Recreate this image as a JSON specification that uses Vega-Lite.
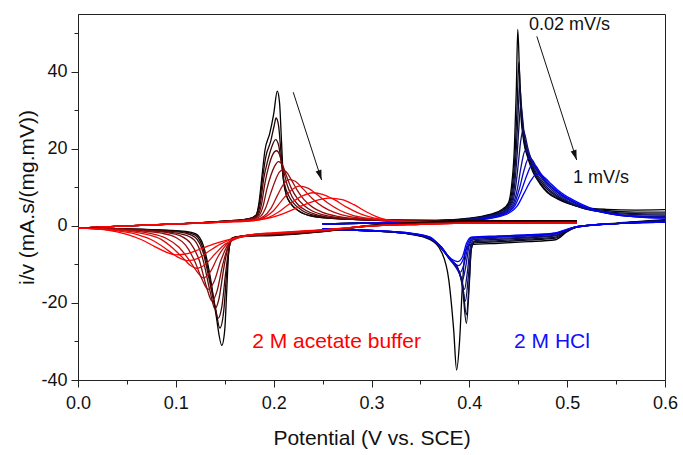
{
"$schema":"https://vega.github.io/schema/vega-lite/v6.json",
"width":587,"height":366,
"autosize":{"type":"none"},
"padding":{"left":78,"top":14,"right":18,"bottom":75},
"background":"white",
"config":{"font":"Liberation Sans","view":{"stroke":"#222222","strokeWidth":1}},
"datasets":{
"cv":[
{"c":"A0","b":"u","x":0,"y":-0.6},{"c":"A0","b":"u","x":0.05,"y":0},{"c":"A0","b":"u","x":0.1,"y":0.5},{"c":"A0","b":"u","x":0.15,"y":1.2},{"c":"A0","b":"u","x":0.175,"y":1.9},{"c":"A0","b":"u","x":0.182,"y":2.8},{"c":"A0","b":"u","x":0.185,"y":6},{"c":"A0","b":"u","x":0.1885,"y":14},{"c":"A0","b":"u","x":0.191,"y":19.5},{"c":"A0","b":"u","x":0.196,"y":24},{"c":"A0","b":"u","x":0.2,"y":29},{"c":"A0","b":"u","x":0.2037,"y":35},{"c":"A0","b":"u","x":0.206,"y":32},{"c":"A0","b":"u","x":0.208,"y":22},{"c":"A0","b":"u","x":0.21,"y":12},{"c":"A0","b":"u","x":0.213,"y":8},{"c":"A0","b":"u","x":0.217,"y":5.9},{"c":"A0","b":"u","x":0.225,"y":4},{"c":"A0","b":"u","x":0.24,"y":2.5},{"c":"A0","b":"u","x":0.27,"y":1.8},{"c":"A0","b":"u","x":0.3,"y":1.6},{"c":"A0","b":"u","x":0.4,"y":1.4},{"c":"A0","b":"u","x":0.51,"y":1.3},
{"c":"A1","b":"u","x":0,"y":-0.6},{"c":"A1","b":"u","x":0.05,"y":0},{"c":"A1","b":"u","x":0.1,"y":0.5},{"c":"A1","b":"u","x":0.15,"y":1.2},{"c":"A1","b":"u","x":0.175,"y":1.9},{"c":"A1","b":"u","x":0.182,"y":2.8},{"c":"A1","b":"u","x":0.1855,"y":6},{"c":"A1","b":"u","x":0.189,"y":13},{"c":"A1","b":"u","x":0.192,"y":18},{"c":"A1","b":"u","x":0.197,"y":22},{"c":"A1","b":"u","x":0.2005,"y":26},{"c":"A1","b":"u","x":0.2025,"y":28},{"c":"A1","b":"u","x":0.205,"y":26},{"c":"A1","b":"u","x":0.2075,"y":19},{"c":"A1","b":"u","x":0.21,"y":12},{"c":"A1","b":"u","x":0.213,"y":8},{"c":"A1","b":"u","x":0.217,"y":6},{"c":"A1","b":"u","x":0.225,"y":4},{"c":"A1","b":"u","x":0.24,"y":2.5},{"c":"A1","b":"u","x":0.27,"y":1.8},{"c":"A1","b":"u","x":0.3,"y":1.5},{"c":"A1","b":"u","x":0.4,"y":1.3},{"c":"A1","b":"u","x":0.51,"y":1.2},
{"c":"A2","b":"u","x":0,"y":-0.6},{"c":"A2","b":"u","x":0.05,"y":0},{"c":"A2","b":"u","x":0.1,"y":0.5},{"c":"A2","b":"u","x":0.15,"y":1.2},{"c":"A2","b":"u","x":0.176,"y":1.9},{"c":"A2","b":"u","x":0.183,"y":2.8},{"c":"A2","b":"u","x":0.1865,"y":6},{"c":"A2","b":"u","x":0.19,"y":12.5},{"c":"A2","b":"u","x":0.194,"y":17},{"c":"A2","b":"u","x":0.198,"y":20.5},{"c":"A2","b":"u","x":0.202,"y":22.4},{"c":"A2","b":"u","x":0.205,"y":21},{"c":"A2","b":"u","x":0.208,"y":16},{"c":"A2","b":"u","x":0.211,"y":11},{"c":"A2","b":"u","x":0.215,"y":8},{"c":"A2","b":"u","x":0.22,"y":6},{"c":"A2","b":"u","x":0.228,"y":4.2},{"c":"A2","b":"u","x":0.242,"y":2.7},{"c":"A2","b":"u","x":0.27,"y":1.8},{"c":"A2","b":"u","x":0.3,"y":1.5},{"c":"A2","b":"u","x":0.4,"y":1.2},{"c":"A2","b":"u","x":0.51,"y":1.1},
{"c":"A3","b":"u","x":0,"y":-0.6},{"c":"A3","b":"u","x":0.05,"y":0},{"c":"A3","b":"u","x":0.1,"y":0.5},{"c":"A3","b":"u","x":0.15,"y":1.2},{"c":"A3","b":"u","x":0.177,"y":1.9},{"c":"A3","b":"u","x":0.184,"y":2.8},{"c":"A3","b":"u","x":0.1875,"y":5.5},{"c":"A3","b":"u","x":0.191,"y":11},{"c":"A3","b":"u","x":0.195,"y":15.5},{"c":"A3","b":"u","x":0.199,"y":18.5},{"c":"A3","b":"u","x":0.203,"y":19.5},{"c":"A3","b":"u","x":0.206,"y":18.5},{"c":"A3","b":"u","x":0.21,"y":14.5},{"c":"A3","b":"u","x":0.214,"y":10.5},{"c":"A3","b":"u","x":0.219,"y":7.5},{"c":"A3","b":"u","x":0.225,"y":5.5},{"c":"A3","b":"u","x":0.233,"y":4},{"c":"A3","b":"u","x":0.245,"y":2.8},{"c":"A3","b":"u","x":0.27,"y":1.9},{"c":"A3","b":"u","x":0.3,"y":1.5},{"c":"A3","b":"u","x":0.4,"y":1.1},{"c":"A3","b":"u","x":0.51,"y":1.0},
{"c":"A4","b":"u","x":0,"y":-0.6},{"c":"A4","b":"u","x":0.05,"y":0},{"c":"A4","b":"u","x":0.1,"y":0.5},{"c":"A4","b":"u","x":0.15,"y":1.1},{"c":"A4","b":"u","x":0.178,"y":1.8},{"c":"A4","b":"u","x":0.185,"y":2.7},{"c":"A4","b":"u","x":0.189,"y":5},{"c":"A4","b":"u","x":0.193,"y":9.5},{"c":"A4","b":"u","x":0.197,"y":13},{"c":"A4","b":"u","x":0.201,"y":15.5},{"c":"A4","b":"u","x":0.205,"y":16.7},{"c":"A4","b":"u","x":0.209,"y":15.8},{"c":"A4","b":"u","x":0.213,"y":13},{"c":"A4","b":"u","x":0.218,"y":9.8},{"c":"A4","b":"u","x":0.224,"y":7.2},{"c":"A4","b":"u","x":0.231,"y":5.3},{"c":"A4","b":"u","x":0.24,"y":3.8},{"c":"A4","b":"u","x":0.255,"y":2.6},{"c":"A4","b":"u","x":0.28,"y":1.8},{"c":"A4","b":"u","x":0.32,"y":1.4},{"c":"A4","b":"u","x":0.4,"y":1.0},{"c":"A4","b":"u","x":0.51,"y":0.9},
{"c":"A5","b":"u","x":0,"y":-0.6},{"c":"A5","b":"u","x":0.05,"y":0},{"c":"A5","b":"u","x":0.1,"y":0.5},{"c":"A5","b":"u","x":0.15,"y":1.1},{"c":"A5","b":"u","x":0.179,"y":1.7},{"c":"A5","b":"u","x":0.187,"y":2.6},{"c":"A5","b":"u","x":0.192,"y":4.8},{"c":"A5","b":"u","x":0.197,"y":8.5},{"c":"A5","b":"u","x":0.202,"y":12},{"c":"A5","b":"u","x":0.206,"y":14},{"c":"A5","b":"u","x":0.209,"y":14.5},{"c":"A5","b":"u","x":0.213,"y":14},{"c":"A5","b":"u","x":0.218,"y":12},{"c":"A5","b":"u","x":0.224,"y":9.3},{"c":"A5","b":"u","x":0.231,"y":6.8},{"c":"A5","b":"u","x":0.24,"y":4.8},{"c":"A5","b":"u","x":0.25,"y":3.5},{"c":"A5","b":"u","x":0.265,"y":2.5},{"c":"A5","b":"u","x":0.29,"y":1.8},{"c":"A5","b":"u","x":0.33,"y":1.3},{"c":"A5","b":"u","x":0.4,"y":0.9},{"c":"A5","b":"u","x":0.51,"y":0.8},
{"c":"A6","b":"u","x":0,"y":-0.6},{"c":"A6","b":"u","x":0.05,"y":0},{"c":"A6","b":"u","x":0.1,"y":0.5},{"c":"A6","b":"u","x":0.15,"y":1.1},{"c":"A6","b":"u","x":0.18,"y":1.6},{"c":"A6","b":"u","x":0.19,"y":2.5},{"c":"A6","b":"u","x":0.197,"y":4.5},{"c":"A6","b":"u","x":0.204,"y":8},{"c":"A6","b":"u","x":0.21,"y":10.8},{"c":"A6","b":"u","x":0.216,"y":12},{"c":"A6","b":"u","x":0.222,"y":11.6},{"c":"A6","b":"u","x":0.23,"y":9.6},{"c":"A6","b":"u","x":0.24,"y":7},{"c":"A6","b":"u","x":0.25,"y":5},{"c":"A6","b":"u","x":0.262,"y":3.5},{"c":"A6","b":"u","x":0.278,"y":2.4},{"c":"A6","b":"u","x":0.3,"y":1.8},{"c":"A6","b":"u","x":0.33,"y":1.3},{"c":"A6","b":"u","x":0.4,"y":0.8},{"c":"A6","b":"u","x":0.51,"y":0.7},
{"c":"A7","b":"u","x":0,"y":-0.6},{"c":"A7","b":"u","x":0.05,"y":0},{"c":"A7","b":"u","x":0.1,"y":0.5},{"c":"A7","b":"u","x":0.15,"y":1.0},{"c":"A7","b":"u","x":0.18,"y":1.5},{"c":"A7","b":"u","x":0.192,"y":2.4},{"c":"A7","b":"u","x":0.2,"y":4},{"c":"A7","b":"u","x":0.208,"y":6.5},{"c":"A7","b":"u","x":0.217,"y":9},{"c":"A7","b":"u","x":0.226,"y":10.3},{"c":"A7","b":"u","x":0.235,"y":9.8},{"c":"A7","b":"u","x":0.245,"y":8},{"c":"A7","b":"u","x":0.255,"y":6},{"c":"A7","b":"u","x":0.268,"y":4},{"c":"A7","b":"u","x":0.28,"y":2.8},{"c":"A7","b":"u","x":0.295,"y":2},{"c":"A7","b":"u","x":0.315,"y":1.4},{"c":"A7","b":"u","x":0.34,"y":1.0},{"c":"A7","b":"u","x":0.4,"y":0.8},{"c":"A7","b":"u","x":0.51,"y":0.7},
{"c":"A8","b":"u","x":0,"y":-0.6},{"c":"A8","b":"u","x":0.05,"y":0},{"c":"A8","b":"u","x":0.1,"y":0.5},{"c":"A8","b":"u","x":0.15,"y":1.0},{"c":"A8","b":"u","x":0.18,"y":1.4},{"c":"A8","b":"u","x":0.195,"y":2.2},{"c":"A8","b":"u","x":0.205,"y":3.6},{"c":"A8","b":"u","x":0.215,"y":5.5},{"c":"A8","b":"u","x":0.228,"y":7.6},{"c":"A8","b":"u","x":0.24,"y":8.6},{"c":"A8","b":"u","x":0.25,"y":8.2},{"c":"A8","b":"u","x":0.262,"y":6.8},{"c":"A8","b":"u","x":0.275,"y":4.8},{"c":"A8","b":"u","x":0.288,"y":3.2},{"c":"A8","b":"u","x":0.3,"y":2.2},{"c":"A8","b":"u","x":0.315,"y":1.5},{"c":"A8","b":"u","x":0.335,"y":1.1},{"c":"A8","b":"u","x":0.4,"y":0.8},{"c":"A8","b":"u","x":0.51,"y":0.7},
{"c":"A9","b":"u","x":0,"y":-0.6},{"c":"A9","b":"u","x":0.05,"y":0},{"c":"A9","b":"u","x":0.1,"y":0.5},{"c":"A9","b":"u","x":0.15,"y":1.0},{"c":"A9","b":"u","x":0.18,"y":1.4},{"c":"A9","b":"u","x":0.195,"y":2.0},{"c":"A9","b":"u","x":0.21,"y":3.2},{"c":"A9","b":"u","x":0.225,"y":4.8},{"c":"A9","b":"u","x":0.24,"y":6.3},{"c":"A9","b":"u","x":0.257,"y":7.2},{"c":"A9","b":"u","x":0.27,"y":6.8},{"c":"A9","b":"u","x":0.282,"y":5.5},{"c":"A9","b":"u","x":0.295,"y":3.6},{"c":"A9","b":"u","x":0.305,"y":2.4},{"c":"A9","b":"u","x":0.315,"y":1.6},{"c":"A9","b":"u","x":0.33,"y":1.1},{"c":"A9","b":"u","x":0.36,"y":0.9},{"c":"A9","b":"u","x":0.4,"y":0.8},{"c":"A9","b":"u","x":0.51,"y":0.7},
{"c":"A0","b":"l","x":0,"y":-0.6},{"c":"A0","b":"l","x":0.05,"y":-0.8},{"c":"A0","b":"l","x":0.09,"y":-1.1},{"c":"A0","b":"l","x":0.11,"y":-1.4},{"c":"A0","b":"l","x":0.12,"y":-2},{"c":"A0","b":"l","x":0.128,"y":-5},{"c":"A0","b":"l","x":0.135,"y":-13},{"c":"A0","b":"l","x":0.141,"y":-23},{"c":"A0","b":"l","x":0.147,"y":-31},{"c":"A0","b":"l","x":0.15,"y":-27},{"c":"A0","b":"l","x":0.152,"y":-17},{"c":"A0","b":"l","x":0.154,"y":-7},{"c":"A0","b":"l","x":0.157,"y":-3.2},{"c":"A0","b":"l","x":0.165,"y":-2.7},{"c":"A0","b":"l","x":0.2,"y":-2.5},{"c":"A0","b":"l","x":0.25,"y":-1.5},{"c":"A0","b":"l","x":0.3,"y":0.2},{"c":"A0","b":"l","x":0.35,"y":0.9},{"c":"A0","b":"l","x":0.4,"y":1.2},{"c":"A0","b":"l","x":0.51,"y":1.3},
{"c":"A1","b":"l","x":0,"y":-0.6},{"c":"A1","b":"l","x":0.05,"y":-0.8},{"c":"A1","b":"l","x":0.09,"y":-1.2},{"c":"A1","b":"l","x":0.11,"y":-1.6},{"c":"A1","b":"l","x":0.12,"y":-2.4},{"c":"A1","b":"l","x":0.128,"y":-6},{"c":"A1","b":"l","x":0.135,"y":-14},{"c":"A1","b":"l","x":0.141,"y":-22},{"c":"A1","b":"l","x":0.145,"y":-26.5},{"c":"A1","b":"l","x":0.149,"y":-22},{"c":"A1","b":"l","x":0.152,"y":-12},{"c":"A1","b":"l","x":0.155,"y":-5},{"c":"A1","b":"l","x":0.158,"y":-3.1},{"c":"A1","b":"l","x":0.17,"y":-2.6},{"c":"A1","b":"l","x":0.2,"y":-2.4},{"c":"A1","b":"l","x":0.25,"y":-1.5},{"c":"A1","b":"l","x":0.3,"y":0.1},{"c":"A1","b":"l","x":0.35,"y":0.8},{"c":"A1","b":"l","x":0.4,"y":1.1},{"c":"A1","b":"l","x":0.51,"y":1.2},
{"c":"A2","b":"l","x":0,"y":-0.6},{"c":"A2","b":"l","x":0.05,"y":-0.8},{"c":"A2","b":"l","x":0.09,"y":-1.3},{"c":"A2","b":"l","x":0.11,"y":-1.9},{"c":"A2","b":"l","x":0.12,"y":-3},{"c":"A2","b":"l","x":0.128,"y":-7},{"c":"A2","b":"l","x":0.135,"y":-15},{"c":"A2","b":"l","x":0.14,"y":-21},{"c":"A2","b":"l","x":0.143,"y":-24},{"c":"A2","b":"l","x":0.147,"y":-21},{"c":"A2","b":"l","x":0.151,"y":-12},{"c":"A2","b":"l","x":0.155,"y":-5},{"c":"A2","b":"l","x":0.16,"y":-3},{"c":"A2","b":"l","x":0.18,"y":-2.5},{"c":"A2","b":"l","x":0.2,"y":-2.3},{"c":"A2","b":"l","x":0.25,"y":-1.4},{"c":"A2","b":"l","x":0.3,"y":0.1},{"c":"A2","b":"l","x":0.35,"y":0.7},{"c":"A2","b":"l","x":0.4,"y":1.0},{"c":"A2","b":"l","x":0.51,"y":1.1},
{"c":"A3","b":"l","x":0,"y":-0.6},{"c":"A3","b":"l","x":0.05,"y":-0.9},{"c":"A3","b":"l","x":0.09,"y":-1.5},{"c":"A3","b":"l","x":0.11,"y":-2.4},{"c":"A3","b":"l","x":0.12,"y":-4},{"c":"A3","b":"l","x":0.128,"y":-9},{"c":"A3","b":"l","x":0.135,"y":-17},{"c":"A3","b":"l","x":0.14,"y":-21.5},{"c":"A3","b":"l","x":0.144,"y":-19},{"c":"A3","b":"l","x":0.149,"y":-11},{"c":"A3","b":"l","x":0.154,"y":-5},{"c":"A3","b":"l","x":0.16,"y":-3.1},{"c":"A3","b":"l","x":0.18,"y":-2.4},{"c":"A3","b":"l","x":0.2,"y":-2.2},{"c":"A3","b":"l","x":0.25,"y":-1.4},{"c":"A3","b":"l","x":0.3,"y":0},{"c":"A3","b":"l","x":0.35,"y":0.6},{"c":"A3","b":"l","x":0.4,"y":0.9},{"c":"A3","b":"l","x":0.51,"y":1.0},
{"c":"A4","b":"l","x":0,"y":-0.6},{"c":"A4","b":"l","x":0.05,"y":-0.9},{"c":"A4","b":"l","x":0.09,"y":-1.7},{"c":"A4","b":"l","x":0.105,"y":-2.6},{"c":"A4","b":"l","x":0.115,"y":-4.5},{"c":"A4","b":"l","x":0.124,"y":-9},{"c":"A4","b":"l","x":0.131,"y":-15.5},{"c":"A4","b":"l","x":0.137,"y":-19.5},{"c":"A4","b":"l","x":0.142,"y":-17},{"c":"A4","b":"l","x":0.148,"y":-10},{"c":"A4","b":"l","x":0.154,"y":-5},{"c":"A4","b":"l","x":0.16,"y":-3.2},{"c":"A4","b":"l","x":0.18,"y":-2.3},{"c":"A4","b":"l","x":0.2,"y":-2.1},{"c":"A4","b":"l","x":0.25,"y":-1.3},{"c":"A4","b":"l","x":0.3,"y":0},{"c":"A4","b":"l","x":0.35,"y":0.5},{"c":"A4","b":"l","x":0.4,"y":0.8},{"c":"A4","b":"l","x":0.51,"y":0.9},
{"c":"A5","b":"l","x":0,"y":-0.6},{"c":"A5","b":"l","x":0.05,"y":-1.0},{"c":"A5","b":"l","x":0.085,"y":-1.9},{"c":"A5","b":"l","x":0.1,"y":-3},{"c":"A5","b":"l","x":0.11,"y":-5},{"c":"A5","b":"l","x":0.119,"y":-9},{"c":"A5","b":"l","x":0.127,"y":-14},{"c":"A5","b":"l","x":0.133,"y":-16.5},{"c":"A5","b":"l","x":0.139,"y":-14.5},{"c":"A5","b":"l","x":0.146,"y":-9},{"c":"A5","b":"l","x":0.153,"y":-5},{"c":"A5","b":"l","x":0.16,"y":-3.2},{"c":"A5","b":"l","x":0.18,"y":-2.2},{"c":"A5","b":"l","x":0.2,"y":-2.0},{"c":"A5","b":"l","x":0.25,"y":-1.2},{"c":"A5","b":"l","x":0.3,"y":0},{"c":"A5","b":"l","x":0.35,"y":0.5},{"c":"A5","b":"l","x":0.4,"y":0.7},{"c":"A5","b":"l","x":0.51,"y":0.8},
{"c":"A6","b":"l","x":0,"y":-0.6},{"c":"A6","b":"l","x":0.04,"y":-1.0},{"c":"A6","b":"l","x":0.075,"y":-2},{"c":"A6","b":"l","x":0.09,"y":-3.2},{"c":"A6","b":"l","x":0.103,"y":-5.5},{"c":"A6","b":"l","x":0.114,"y":-9},{"c":"A6","b":"l","x":0.122,"y":-12},{"c":"A6","b":"l","x":0.128,"y":-13.5},{"c":"A6","b":"l","x":0.135,"y":-12},{"c":"A6","b":"l","x":0.143,"y":-8},{"c":"A6","b":"l","x":0.152,"y":-4.8},{"c":"A6","b":"l","x":0.162,"y":-3.2},{"c":"A6","b":"l","x":0.18,"y":-2.3},{"c":"A6","b":"l","x":0.2,"y":-2.0},{"c":"A6","b":"l","x":0.25,"y":-1.2},{"c":"A6","b":"l","x":0.3,"y":0},{"c":"A6","b":"l","x":0.35,"y":0.4},{"c":"A6","b":"l","x":0.4,"y":0.7},{"c":"A6","b":"l","x":0.51,"y":0.7},
{"c":"A7","b":"l","x":0,"y":-0.6},{"c":"A7","b":"l","x":0.04,"y":-1.1},{"c":"A7","b":"l","x":0.07,"y":-2.2},{"c":"A7","b":"l","x":0.085,"y":-3.5},{"c":"A7","b":"l","x":0.097,"y":-5.8},{"c":"A7","b":"l","x":0.108,"y":-8.5},{"c":"A7","b":"l","x":0.115,"y":-10.3},{"c":"A7","b":"l","x":0.121,"y":-11},{"c":"A7","b":"l","x":0.13,"y":-10},{"c":"A7","b":"l","x":0.14,"y":-7.3},{"c":"A7","b":"l","x":0.15,"y":-4.8},{"c":"A7","b":"l","x":0.162,"y":-3.3},{"c":"A7","b":"l","x":0.18,"y":-2.3},{"c":"A7","b":"l","x":0.2,"y":-1.9},{"c":"A7","b":"l","x":0.25,"y":-1.1},{"c":"A7","b":"l","x":0.3,"y":0},{"c":"A7","b":"l","x":0.35,"y":0.4},{"c":"A7","b":"l","x":0.4,"y":0.7},{"c":"A7","b":"l","x":0.51,"y":0.7},
{"c":"A8","b":"l","x":0,"y":-0.6},{"c":"A8","b":"l","x":0.03,"y":-1.0},{"c":"A8","b":"l","x":0.06,"y":-2.2},{"c":"A8","b":"l","x":0.075,"y":-3.6},{"c":"A8","b":"l","x":0.088,"y":-5.6},{"c":"A8","b":"l","x":0.1,"y":-7.8},{"c":"A8","b":"l","x":0.112,"y":-9},{"c":"A8","b":"l","x":0.122,"y":-8.5},{"c":"A8","b":"l","x":0.133,"y":-6.7},{"c":"A8","b":"l","x":0.145,"y":-4.8},{"c":"A8","b":"l","x":0.158,"y":-3.4},{"c":"A8","b":"l","x":0.18,"y":-2.2},{"c":"A8","b":"l","x":0.2,"y":-1.9},{"c":"A8","b":"l","x":0.25,"y":-1.1},{"c":"A8","b":"l","x":0.3,"y":0},{"c":"A8","b":"l","x":0.35,"y":0.4},{"c":"A8","b":"l","x":0.4,"y":0.7},{"c":"A8","b":"l","x":0.51,"y":0.7},
{"c":"A9","b":"l","x":0,"y":-0.6},{"c":"A9","b":"l","x":0.03,"y":-1.1},{"c":"A9","b":"l","x":0.05,"y":-2.2},{"c":"A9","b":"l","x":0.065,"y":-3.6},{"c":"A9","b":"l","x":0.078,"y":-5.3},{"c":"A9","b":"l","x":0.09,"y":-6.8},{"c":"A9","b":"l","x":0.1,"y":-7.5},{"c":"A9","b":"l","x":0.112,"y":-7.2},{"c":"A9","b":"l","x":0.125,"y":-6},{"c":"A9","b":"l","x":0.14,"y":-4.6},{"c":"A9","b":"l","x":0.155,"y":-3.5},{"c":"A9","b":"l","x":0.18,"y":-2.2},{"c":"A9","b":"l","x":0.2,"y":-1.8},{"c":"A9","b":"l","x":0.25,"y":-1.0},{"c":"A9","b":"l","x":0.3,"y":0},{"c":"A9","b":"l","x":0.35,"y":0.4},{"c":"A9","b":"l","x":0.4,"y":0.7},{"c":"A9","b":"l","x":0.51,"y":0.7},
{"c":"H0","b":"u","x":0.25,"y":0.5},{"c":"H0","b":"u","x":0.3,"y":0.8},{"c":"H0","b":"u","x":0.35,"y":1.2},{"c":"H0","b":"u","x":0.4,"y":2.0},{"c":"H0","b":"u","x":0.42,"y":2.9},{"c":"H0","b":"u","x":0.433,"y":4.2},{"c":"H0","b":"u","x":0.44,"y":6},{"c":"H0","b":"u","x":0.443,"y":10},{"c":"H0","b":"u","x":0.446,"y":20},{"c":"H0","b":"u","x":0.448,"y":35},{"c":"H0","b":"u","x":0.4495,"y":51},{"c":"H0","b":"u","x":0.451,"y":42},{"c":"H0","b":"u","x":0.4525,"y":30},{"c":"H0","b":"u","x":0.455,"y":23},{"c":"H0","b":"u","x":0.46,"y":17.5},{"c":"H0","b":"u","x":0.465,"y":14},{"c":"H0","b":"u","x":0.472,"y":11},{"c":"H0","b":"u","x":0.48,"y":8.6},{"c":"H0","b":"u","x":0.49,"y":7},{"c":"H0","b":"u","x":0.5,"y":5.9},{"c":"H0","b":"u","x":0.515,"y":4.9},{"c":"H0","b":"u","x":0.54,"y":4.3},{"c":"H0","b":"u","x":0.57,"y":4.1},{"c":"H0","b":"u","x":0.6,"y":4.2},
{"c":"H1","b":"u","x":0.25,"y":0.5},{"c":"H1","b":"u","x":0.3,"y":0.8},{"c":"H1","b":"u","x":0.35,"y":1.2},{"c":"H1","b":"u","x":0.4,"y":1.9},{"c":"H1","b":"u","x":0.42,"y":2.8},{"c":"H1","b":"u","x":0.434,"y":4.1},{"c":"H1","b":"u","x":0.441,"y":6},{"c":"H1","b":"u","x":0.444,"y":10},{"c":"H1","b":"u","x":0.447,"y":20},{"c":"H1","b":"u","x":0.449,"y":32},{"c":"H1","b":"u","x":0.4505,"y":42.5},{"c":"H1","b":"u","x":0.452,"y":36},{"c":"H1","b":"u","x":0.4535,"y":28},{"c":"H1","b":"u","x":0.456,"y":22},{"c":"H1","b":"u","x":0.461,"y":17.3},{"c":"H1","b":"u","x":0.466,"y":14},{"c":"H1","b":"u","x":0.473,"y":11},{"c":"H1","b":"u","x":0.48,"y":8.9},{"c":"H1","b":"u","x":0.49,"y":7.2},{"c":"H1","b":"u","x":0.5,"y":6},{"c":"H1","b":"u","x":0.515,"y":4.8},{"c":"H1","b":"u","x":0.54,"y":4.0},{"c":"H1","b":"u","x":0.57,"y":3.6},{"c":"H1","b":"u","x":0.6,"y":3.6},
{"c":"H2","b":"u","x":0.25,"y":0.5},{"c":"H2","b":"u","x":0.3,"y":0.8},{"c":"H2","b":"u","x":0.35,"y":1.2},{"c":"H2","b":"u","x":0.4,"y":1.9},{"c":"H2","b":"u","x":0.421,"y":2.8},{"c":"H2","b":"u","x":0.435,"y":4.1},{"c":"H2","b":"u","x":0.442,"y":6},{"c":"H2","b":"u","x":0.445,"y":10},{"c":"H2","b":"u","x":0.448,"y":20},{"c":"H2","b":"u","x":0.45,"y":30},{"c":"H2","b":"u","x":0.4515,"y":36.5},{"c":"H2","b":"u","x":0.453,"y":32},{"c":"H2","b":"u","x":0.455,"y":25},{"c":"H2","b":"u","x":0.458,"y":20.5},{"c":"H2","b":"u","x":0.462,"y":17},{"c":"H2","b":"u","x":0.467,"y":14},{"c":"H2","b":"u","x":0.474,"y":11.2},{"c":"H2","b":"u","x":0.481,"y":9.2},{"c":"H2","b":"u","x":0.49,"y":7.5},{"c":"H2","b":"u","x":0.5,"y":6.1},{"c":"H2","b":"u","x":0.515,"y":4.7},{"c":"H2","b":"u","x":0.54,"y":3.7},{"c":"H2","b":"u","x":0.57,"y":3.2},{"c":"H2","b":"u","x":0.6,"y":3.1},
{"c":"H3","b":"u","x":0.25,"y":0.5},{"c":"H3","b":"u","x":0.3,"y":0.8},{"c":"H3","b":"u","x":0.35,"y":1.1},{"c":"H3","b":"u","x":0.4,"y":1.8},{"c":"H3","b":"u","x":0.422,"y":2.7},{"c":"H3","b":"u","x":0.436,"y":4},{"c":"H3","b":"u","x":0.443,"y":6},{"c":"H3","b":"u","x":0.446,"y":10},{"c":"H3","b":"u","x":0.449,"y":19},{"c":"H3","b":"u","x":0.451,"y":27},{"c":"H3","b":"u","x":0.4525,"y":31.5},{"c":"H3","b":"u","x":0.454,"y":29},{"c":"H3","b":"u","x":0.456,"y":24},{"c":"H3","b":"u","x":0.459,"y":20},{"c":"H3","b":"u","x":0.463,"y":16.8},{"c":"H3","b":"u","x":0.468,"y":14},{"c":"H3","b":"u","x":0.475,"y":11.4},{"c":"H3","b":"u","x":0.482,"y":9.4},{"c":"H3","b":"u","x":0.49,"y":7.8},{"c":"H3","b":"u","x":0.5,"y":6.3},{"c":"H3","b":"u","x":0.515,"y":4.7},{"c":"H3","b":"u","x":0.54,"y":3.5},{"c":"H3","b":"u","x":0.57,"y":2.9},{"c":"H3","b":"u","x":0.6,"y":2.8},
{"c":"H4","b":"u","x":0.25,"y":0.5},{"c":"H4","b":"u","x":0.3,"y":0.7},{"c":"H4","b":"u","x":0.35,"y":1.0},{"c":"H4","b":"u","x":0.4,"y":1.7},{"c":"H4","b":"u","x":0.423,"y":2.6},{"c":"H4","b":"u","x":0.437,"y":3.9},{"c":"H4","b":"u","x":0.444,"y":6},{"c":"H4","b":"u","x":0.447,"y":9.5},{"c":"H4","b":"u","x":0.45,"y":16},{"c":"H4","b":"u","x":0.4525,"y":22},{"c":"H4","b":"u","x":0.455,"y":25},{"c":"H4","b":"u","x":0.457,"y":23.5},{"c":"H4","b":"u","x":0.46,"y":20},{"c":"H4","b":"u","x":0.464,"y":16.8},{"c":"H4","b":"u","x":0.469,"y":14.2},{"c":"H4","b":"u","x":0.476,"y":11.7},{"c":"H4","b":"u","x":0.483,"y":9.7},{"c":"H4","b":"u","x":0.491,"y":8},{"c":"H4","b":"u","x":0.5,"y":6.6},{"c":"H4","b":"u","x":0.515,"y":4.8},{"c":"H4","b":"u","x":0.54,"y":3.4},{"c":"H4","b":"u","x":0.57,"y":2.6},{"c":"H4","b":"u","x":0.6,"y":2.5},
{"c":"H5","b":"u","x":0.25,"y":0.5},{"c":"H5","b":"u","x":0.3,"y":0.7},{"c":"H5","b":"u","x":0.35,"y":1.0},{"c":"H5","b":"u","x":0.4,"y":1.6},{"c":"H5","b":"u","x":0.424,"y":2.5},{"c":"H5","b":"u","x":0.438,"y":3.8},{"c":"H5","b":"u","x":0.445,"y":5.8},{"c":"H5","b":"u","x":0.449,"y":9.5},{"c":"H5","b":"u","x":0.453,"y":15.5},{"c":"H5","b":"u","x":0.457,"y":19.5},{"c":"H5","b":"u","x":0.46,"y":19},{"c":"H5","b":"u","x":0.464,"y":17},{"c":"H5","b":"u","x":0.469,"y":14.6},{"c":"H5","b":"u","x":0.476,"y":12},{"c":"H5","b":"u","x":0.484,"y":10},{"c":"H5","b":"u","x":0.492,"y":8.3},{"c":"H5","b":"u","x":0.5,"y":7},{"c":"H5","b":"u","x":0.515,"y":5},{"c":"H5","b":"u","x":0.535,"y":3.6},{"c":"H5","b":"u","x":0.56,"y":2.6},{"c":"H5","b":"u","x":0.6,"y":2.3},
{"c":"H6","b":"u","x":0.25,"y":0.5},{"c":"H6","b":"u","x":0.3,"y":0.7},{"c":"H6","b":"u","x":0.35,"y":1.0},{"c":"H6","b":"u","x":0.4,"y":1.5},{"c":"H6","b":"u","x":0.425,"y":2.4},{"c":"H6","b":"u","x":0.439,"y":3.7},{"c":"H6","b":"u","x":0.446,"y":5.6},{"c":"H6","b":"u","x":0.451,"y":9.5},{"c":"H6","b":"u","x":0.456,"y":14.5},{"c":"H6","b":"u","x":0.4605,"y":17.5},{"c":"H6","b":"u","x":0.464,"y":17.2},{"c":"H6","b":"u","x":0.468,"y":15.5},{"c":"H6","b":"u","x":0.473,"y":13.2},{"c":"H6","b":"u","x":0.48,"y":11},{"c":"H6","b":"u","x":0.487,"y":9.3},{"c":"H6","b":"u","x":0.495,"y":7.8},{"c":"H6","b":"u","x":0.505,"y":6.4},{"c":"H6","b":"u","x":0.52,"y":4.7},{"c":"H6","b":"u","x":0.54,"y":3.4},{"c":"H6","b":"u","x":0.565,"y":2.5},{"c":"H6","b":"u","x":0.6,"y":2.2},
{"c":"H7","b":"u","x":0.25,"y":0.5},{"c":"H7","b":"u","x":0.3,"y":0.7},{"c":"H7","b":"u","x":0.35,"y":0.9},{"c":"H7","b":"u","x":0.4,"y":1.4},{"c":"H7","b":"u","x":0.426,"y":2.3},{"c":"H7","b":"u","x":0.44,"y":3.6},{"c":"H7","b":"u","x":0.447,"y":5.4},{"c":"H7","b":"u","x":0.453,"y":9},{"c":"H7","b":"u","x":0.459,"y":13.3},{"c":"H7","b":"u","x":0.464,"y":15.8},{"c":"H7","b":"u","x":0.468,"y":15.5},{"c":"H7","b":"u","x":0.472,"y":14},{"c":"H7","b":"u","x":0.477,"y":12.2},{"c":"H7","b":"u","x":0.484,"y":10.3},{"c":"H7","b":"u","x":0.491,"y":8.8},{"c":"H7","b":"u","x":0.499,"y":7.4},{"c":"H7","b":"u","x":0.509,"y":6},{"c":"H7","b":"u","x":0.523,"y":4.5},{"c":"H7","b":"u","x":0.543,"y":3.2},{"c":"H7","b":"u","x":0.568,"y":2.4},{"c":"H7","b":"u","x":0.6,"y":2.1},
{"c":"H8","b":"u","x":0.25,"y":0.5},{"c":"H8","b":"u","x":0.3,"y":0.7},{"c":"H8","b":"u","x":0.35,"y":0.9},{"c":"H8","b":"u","x":0.4,"y":1.4},{"c":"H8","b":"u","x":0.427,"y":2.2},{"c":"H8","b":"u","x":0.441,"y":3.4},{"c":"H8","b":"u","x":0.449,"y":5.2},{"c":"H8","b":"u","x":0.456,"y":8.5},{"c":"H8","b":"u","x":0.463,"y":11.8},{"c":"H8","b":"u","x":0.469,"y":13.5},{"c":"H8","b":"u","x":0.473,"y":13.3},{"c":"H8","b":"u","x":0.478,"y":12.3},{"c":"H8","b":"u","x":0.484,"y":10.8},{"c":"H8","b":"u","x":0.49,"y":9.4},{"c":"H8","b":"u","x":0.497,"y":8.1},{"c":"H8","b":"u","x":0.505,"y":6.9},{"c":"H8","b":"u","x":0.515,"y":5.6},{"c":"H8","b":"u","x":0.53,"y":4.1},{"c":"H8","b":"u","x":0.55,"y":3},{"c":"H8","b":"u","x":0.572,"y":2.3},{"c":"H8","b":"u","x":0.6,"y":2.0},
{"c":"H0","b":"l","x":0.25,"y":-0.8},{"c":"H0","b":"l","x":0.3,"y":-1.3},{"c":"H0","b":"l","x":0.34,"y":-2.2},{"c":"H0","b":"l","x":0.36,"y":-3.6},{"c":"H0","b":"l","x":0.372,"y":-7},{"c":"H0","b":"l","x":0.379,"y":-14},{"c":"H0","b":"l","x":0.384,"y":-27},{"c":"H0","b":"l","x":0.387,"y":-37.4},{"c":"H0","b":"l","x":0.39,"y":-30},{"c":"H0","b":"l","x":0.393,"y":-15},{"c":"H0","b":"l","x":0.396,"y":-6.5},{"c":"H0","b":"l","x":0.401,"y":-4.9},{"c":"H0","b":"l","x":0.43,"y":-4.5},{"c":"H0","b":"l","x":0.46,"y":-4.1},{"c":"H0","b":"l","x":0.488,"y":-3.6},{"c":"H0","b":"l","x":0.5,"y":-1.5},{"c":"H0","b":"l","x":0.51,"y":-0.3},{"c":"H0","b":"l","x":0.55,"y":0.7},{"c":"H0","b":"l","x":0.6,"y":1.6},
{"c":"H1","b":"l","x":0.25,"y":-0.8},{"c":"H1","b":"l","x":0.3,"y":-1.3},{"c":"H1","b":"l","x":0.34,"y":-2.1},{"c":"H1","b":"l","x":0.36,"y":-3.4},{"c":"H1","b":"l","x":0.372,"y":-6},{"c":"H1","b":"l","x":0.381,"y":-9},{"c":"H1","b":"l","x":0.388,"y":-11},{"c":"H1","b":"l","x":0.393,"y":-16},{"c":"H1","b":"l","x":0.397,"y":-25.3},{"c":"H1","b":"l","x":0.4,"y":-15},{"c":"H1","b":"l","x":0.402,"y":-6},{"c":"H1","b":"l","x":0.405,"y":-4.4},{"c":"H1","b":"l","x":0.43,"y":-4.1},{"c":"H1","b":"l","x":0.46,"y":-3.7},{"c":"H1","b":"l","x":0.488,"y":-3.2},{"c":"H1","b":"l","x":0.5,"y":-1.3},{"c":"H1","b":"l","x":0.51,"y":-0.3},{"c":"H1","b":"l","x":0.55,"y":0.6},{"c":"H1","b":"l","x":0.6,"y":1.5},
{"c":"H2","b":"l","x":0.25,"y":-0.8},{"c":"H2","b":"l","x":0.3,"y":-1.3},{"c":"H2","b":"l","x":0.34,"y":-2.1},{"c":"H2","b":"l","x":0.36,"y":-3.4},{"c":"H2","b":"l","x":0.372,"y":-6},{"c":"H2","b":"l","x":0.381,"y":-9},{"c":"H2","b":"l","x":0.388,"y":-11},{"c":"H2","b":"l","x":0.393,"y":-15},{"c":"H2","b":"l","x":0.397,"y":-23},{"c":"H2","b":"l","x":0.4,"y":-14},{"c":"H2","b":"l","x":0.402,"y":-6},{"c":"H2","b":"l","x":0.405,"y":-4.1},{"c":"H2","b":"l","x":0.43,"y":-3.8},{"c":"H2","b":"l","x":0.46,"y":-3.4},{"c":"H2","b":"l","x":0.488,"y":-2.9},{"c":"H2","b":"l","x":0.5,"y":-1.2},{"c":"H2","b":"l","x":0.51,"y":-0.3},{"c":"H2","b":"l","x":0.55,"y":0.6},{"c":"H2","b":"l","x":0.6,"y":1.4},
{"c":"H3","b":"l","x":0.25,"y":-0.8},{"c":"H3","b":"l","x":0.3,"y":-1.3},{"c":"H3","b":"l","x":0.34,"y":-2.1},{"c":"H3","b":"l","x":0.36,"y":-3.3},{"c":"H3","b":"l","x":0.372,"y":-5.8},{"c":"H3","b":"l","x":0.381,"y":-8.8},{"c":"H3","b":"l","x":0.388,"y":-10.8},{"c":"H3","b":"l","x":0.392,"y":-14},{"c":"H3","b":"l","x":0.396,"y":-19.5},{"c":"H3","b":"l","x":0.399,"y":-13},{"c":"H3","b":"l","x":0.402,"y":-5.5},{"c":"H3","b":"l","x":0.406,"y":-3.8},{"c":"H3","b":"l","x":0.43,"y":-3.5},{"c":"H3","b":"l","x":0.46,"y":-3.1},{"c":"H3","b":"l","x":0.488,"y":-2.6},{"c":"H3","b":"l","x":0.5,"y":-1.1},{"c":"H3","b":"l","x":0.51,"y":-0.2},{"c":"H3","b":"l","x":0.55,"y":0.6},{"c":"H3","b":"l","x":0.6,"y":1.3},
{"c":"H4","b":"l","x":0.25,"y":-0.8},{"c":"H4","b":"l","x":0.3,"y":-1.3},{"c":"H4","b":"l","x":0.34,"y":-2.0},{"c":"H4","b":"l","x":0.36,"y":-3.2},{"c":"H4","b":"l","x":0.372,"y":-5.6},{"c":"H4","b":"l","x":0.38,"y":-8.5},{"c":"H4","b":"l","x":0.387,"y":-10.5},{"c":"H4","b":"l","x":0.391,"y":-13},{"c":"H4","b":"l","x":0.395,"y":-16.5},{"c":"H4","b":"l","x":0.398,"y":-12},{"c":"H4","b":"l","x":0.401,"y":-5.5},{"c":"H4","b":"l","x":0.405,"y":-3.5},{"c":"H4","b":"l","x":0.43,"y":-3.2},{"c":"H4","b":"l","x":0.46,"y":-2.9},{"c":"H4","b":"l","x":0.488,"y":-2.4},{"c":"H4","b":"l","x":0.5,"y":-1.0},{"c":"H4","b":"l","x":0.51,"y":-0.2},{"c":"H4","b":"l","x":0.55,"y":0.6},{"c":"H4","b":"l","x":0.6,"y":1.2},
{"c":"H5","b":"l","x":0.25,"y":-0.8},{"c":"H5","b":"l","x":0.3,"y":-1.2},{"c":"H5","b":"l","x":0.34,"y":-2.0},{"c":"H5","b":"l","x":0.36,"y":-3.2},{"c":"H5","b":"l","x":0.371,"y":-5.4},{"c":"H5","b":"l","x":0.379,"y":-8.2},{"c":"H5","b":"l","x":0.386,"y":-10.5},{"c":"H5","b":"l","x":0.39,"y":-12.5},{"c":"H5","b":"l","x":0.393,"y":-14},{"c":"H5","b":"l","x":0.396,"y":-11},{"c":"H5","b":"l","x":0.4,"y":-5},{"c":"H5","b":"l","x":0.405,"y":-3.2},{"c":"H5","b":"l","x":0.43,"y":-2.9},{"c":"H5","b":"l","x":0.46,"y":-2.6},{"c":"H5","b":"l","x":0.488,"y":-2.1},{"c":"H5","b":"l","x":0.5,"y":-1.0},{"c":"H5","b":"l","x":0.51,"y":-0.2},{"c":"H5","b":"l","x":0.55,"y":0.6},{"c":"H5","b":"l","x":0.6,"y":1.1},
{"c":"H6","b":"l","x":0.25,"y":-0.8},{"c":"H6","b":"l","x":0.3,"y":-1.2},{"c":"H6","b":"l","x":0.34,"y":-2.0},{"c":"H6","b":"l","x":0.36,"y":-3.1},{"c":"H6","b":"l","x":0.37,"y":-5.2},{"c":"H6","b":"l","x":0.378,"y":-7.8},{"c":"H6","b":"l","x":0.385,"y":-10.3},{"c":"H6","b":"l","x":0.391,"y":-12},{"c":"H6","b":"l","x":0.395,"y":-9.5},{"c":"H6","b":"l","x":0.399,"y":-5},{"c":"H6","b":"l","x":0.404,"y":-3.1},{"c":"H6","b":"l","x":0.43,"y":-2.8},{"c":"H6","b":"l","x":0.46,"y":-2.5},{"c":"H6","b":"l","x":0.488,"y":-2.0},{"c":"H6","b":"l","x":0.5,"y":-1.0},{"c":"H6","b":"l","x":0.51,"y":-0.2},{"c":"H6","b":"l","x":0.55,"y":0.6},{"c":"H6","b":"l","x":0.6,"y":1.0},
{"c":"H7","b":"l","x":0.25,"y":-0.8},{"c":"H7","b":"l","x":0.3,"y":-1.2},{"c":"H7","b":"l","x":0.34,"y":-1.9},{"c":"H7","b":"l","x":0.36,"y":-3},{"c":"H7","b":"l","x":0.369,"y":-5},{"c":"H7","b":"l","x":0.377,"y":-7.5},{"c":"H7","b":"l","x":0.384,"y":-9.5},{"c":"H7","b":"l","x":0.389,"y":-10.3},{"c":"H7","b":"l","x":0.394,"y":-8.5},{"c":"H7","b":"l","x":0.398,"y":-4.8},{"c":"H7","b":"l","x":0.403,"y":-3},{"c":"H7","b":"l","x":0.43,"y":-2.7},{"c":"H7","b":"l","x":0.46,"y":-2.4},{"c":"H7","b":"l","x":0.488,"y":-1.9},{"c":"H7","b":"l","x":0.5,"y":-0.9},{"c":"H7","b":"l","x":0.51,"y":-0.2},{"c":"H7","b":"l","x":0.55,"y":0.6},{"c":"H7","b":"l","x":0.6,"y":1.0},
{"c":"H8","b":"l","x":0.25,"y":-0.8},{"c":"H8","b":"l","x":0.3,"y":-1.2},{"c":"H8","b":"l","x":0.34,"y":-1.9},{"c":"H8","b":"l","x":0.36,"y":-2.9},{"c":"H8","b":"l","x":0.368,"y":-4.8},{"c":"H8","b":"l","x":0.376,"y":-7.2},{"c":"H8","b":"l","x":0.383,"y":-8.8},{"c":"H8","b":"l","x":0.388,"y":-9.3},{"c":"H8","b":"l","x":0.393,"y":-8},{"c":"H8","b":"l","x":0.397,"y":-4.6},{"c":"H8","b":"l","x":0.402,"y":-2.9},{"c":"H8","b":"l","x":0.43,"y":-2.6},{"c":"H8","b":"l","x":0.46,"y":-2.3},{"c":"H8","b":"l","x":0.488,"y":-1.8},{"c":"H8","b":"l","x":0.5,"y":-0.9},{"c":"H8","b":"l","x":0.51,"y":-0.2},{"c":"H8","b":"l","x":0.55,"y":0.6},{"c":"H8","b":"l","x":0.6,"y":1.0}
],
"arrows":[{"x":0.22,"y":34.7,"x2":0.249,"y2":11.9},{"x":0.469,"y":49.2,"x2":0.5097,"y2":17.1}],
"notes":[{"x":0.461,"y":52.2,"t":"0.02 mV/s","g":"k"},{"x":0.506,"y":12.5,"t":"1 mV/s","g":"k"},{"x":0.178,"y":-30.1,"t":"2 M acetate buffer","g":"r"},{"x":0.4457,"y":-30.1,"t":"2 M HCl","g":"b"}]
},
"encoding":{
"x":{"field":"x","type":"quantitative","scale":{"domain":[0,0.6],"nice":false,"zero":false},
"axis":{"title":"Potential (V vs. SCE)","values":[0,0.05,0.1,0.15,0.2,0.25,0.3,0.35,0.4,0.45,0.5,0.55,0.6],
"labelExpr":"round(datum.value*20)%2==1 ? '' : format(datum.value,'.1f')",
"tickSize":{"condition":{"test":"round(datum.value*20)%2==1","value":4},"value":7},
"grid":false,"domainColor":"#222222","tickColor":"#222222","labelColor":"#111111","labelFont":"Liberation Sans","labelFontSize":18,"labelPadding":7,"labelFlush":false,
"titleFont":"Liberation Sans","titleFontSize":21,"titleFontWeight":"normal","titleColor":"#111111","titlePadding":15}},
"y":{"field":"y","type":"quantitative","scale":{"domain":[-40,55],"nice":false,"zero":false},
"axis":{"title":"i/v (mA.s/(mg.mV))","values":[-40,-30,-20,-10,0,10,20,30,40,50],
"labelExpr":"round(datum.value/10)%2!=0 ? '' : ''+datum.value",
"tickSize":{"condition":{"test":"round(datum.value/10)%2!=0","value":4},"value":7},
"grid":false,"domainColor":"#222222","tickColor":"#222222","labelColor":"#111111","labelFont":"Liberation Sans","labelFontSize":18,"labelPadding":4,"labelFlush":false,
"titleFont":"Liberation Sans","titleFontSize":21,"titleFontWeight":"normal","titleColor":"#111111","titlePadding":3}}
},
"layer":[
{"data":{"name":"cv"},"transform":[{"filter":"indexof(datum.c,'H')==0"}],
"mark":{"type":"line","interpolate":"monotone","strokeWidth":1.3},
"encoding":{"color":{"field":"c","type":"nominal","legend":null,
"scale":{"domain":["A0","A1","A2","A3","A4","A5","A6","A7","A8","A9","H0","H1","H2","H3","H4","H5","H6","H7","H8"],
"range":["#000000","#220404","#400707","#5e0a0a","#7c0c0c","#9a0d0d","#b80e0e","#d60f0f","#f00a0a","#ff0000","#000000","#06061e","#0b0b36","#0e0e50","#10106e","#0d0d96","#0a0abb","#0505dd","#0000ff"]}},
"detail":{"field":"b"}}},
{"data":{"name":"cv"},"transform":[{"filter":"indexof(datum.c,'A')==0"}],
"mark":{"type":"line","interpolate":"monotone","strokeWidth":1.3},
"encoding":{"color":{"field":"c","type":"nominal","legend":null},"detail":{"field":"b"}}},
{"data":{"name":"arrows"},"mark":{"type":"rule","color":"#111111","strokeWidth":1},
"encoding":{"x2":{"field":"x2"},"y2":{"field":"y2"}}},
{"data":{"name":"arrows"},"mark":{"type":"point","shape":"M0,0L-0.3,-1L0.3,-1Z","filled":true,"color":"#111111","opacity":1,"size":400,"angle":-18,"strokeWidth":0},
"encoding":{"x":{"field":"x2","type":"quantitative"},"y":{"field":"y2","type":"quantitative"}}},
{"data":{"name":"notes"},"transform":[{"filter":"datum.g=='k'"}],"mark":{"type":"text","align":"left","baseline":"middle","font":"Liberation Sans","fontSize":18,"color":"#111111"},
"encoding":{"text":{"field":"t"}}},
{"data":{"name":"notes"},"transform":[{"filter":"datum.g=='r'"}],"mark":{"type":"text","align":"left","baseline":"middle","font":"Liberation Sans","fontSize":21,"color":"#ff0000"},
"encoding":{"text":{"field":"t"}}},
{"data":{"name":"notes"},"transform":[{"filter":"datum.g=='b'"}],"mark":{"type":"text","align":"left","baseline":"middle","font":"Liberation Sans","fontSize":21,"color":"#1010ff"},
"encoding":{"text":{"field":"t"}}}
]
}
